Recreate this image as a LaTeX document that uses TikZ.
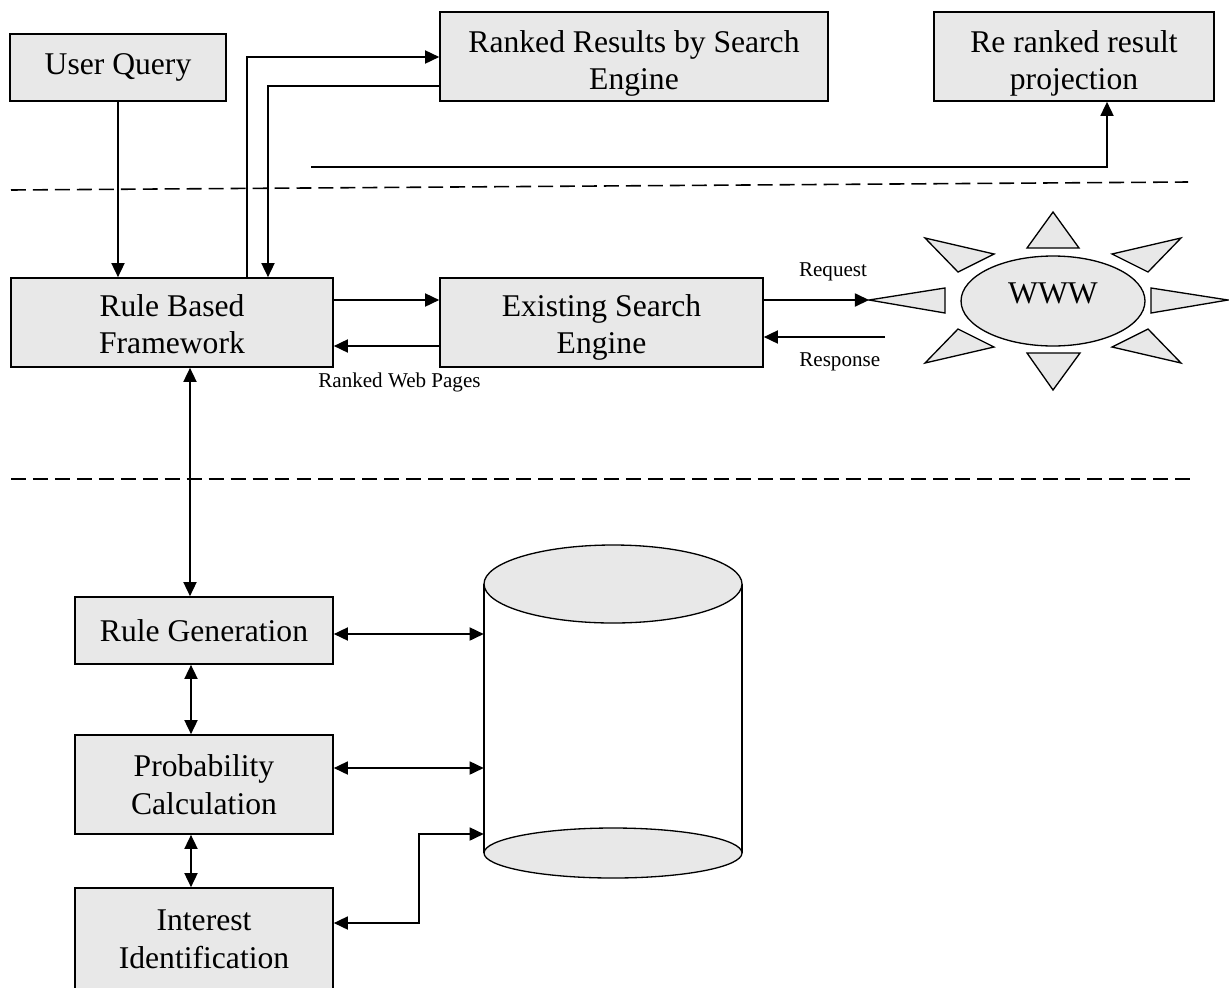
\documentclass[tikz,border=0pt]{standalone}
\usepackage{fontspec}
\setmainfont{Liberation Serif}
\usetikzlibrary{arrows.meta,shapes.geometric}
\definecolor{boxgray}{RGB}{232,232,232}
\newcommand{\lowtext}[2]{\raisebox{-#1}[\height][\depth]{\begin{tabular}{@{}c@{}}#2\end{tabular}}}

\begin{document}
\begin{tikzpicture}[x=0.02cm, y=0.02cm, >={Triangle[length=8pt,width=7.5pt]}]
      \tikzstyle{every node}+=[inner sep=0pt]
      \tikzstyle{box}=[draw=black, line width=1pt, fill=boxgray, align=center, font=\fontsize{18}{21.5}\selectfont]
      \tikzstyle{small}=[font=\fontsize{12}{14}\selectfont]
      \tikzstyle{link}=[black, line width=0.75pt]
      \tikzstyle{ray}=[draw=black, line width=0.75pt, fill=boxgray]
      \tikzstyle{divider}=[black, line width=0.9pt, dash pattern=on 8.5pt off 4pt]
      \clip (0,0) rectangle (1229,-987);
      \fill [white] (0,0) rectangle (1229,-987);
      % top row
      \node [box, minimum width=4.32cm, minimum height=1.34cm] (uq) at (118,-67.5) {User Query};
      \node [box, minimum width=7.76cm, minimum height=1.78cm] (rr) at (634,-56.5) {\lowtext{4pt}{Ranked Results by Search\\Engine}};
      \node [box, minimum width=5.6cm, minimum height=1.78cm] (rp) at (1074,-56.5) {\lowtext{4pt}{Re ranked result\\projection}};
      \draw [divider] (11,-190) -- (1188,-182);
      % middle row
      \node [box, minimum width=6.44cm, minimum height=1.78cm] (rbf) at (172,-322.5) {\lowtext{2.8pt}{Rule Based\\Framework}};
      \node [box, minimum width=6.46cm, minimum height=1.78cm] (ese) at (601.5,-322.5) {\lowtext{2.8pt}{Existing Search\\Engine}};
      \node [small] (req) at (833,-272) {Request};
      \node [small, anchor=west] (resp) at (799,-362) {Response};
      \node [small, anchor=west] (rwp) at (318,-382) {Ranked Web Pages};
      \draw [ray] (869,-300) -- (945,-288) -- (945,-313) -- cycle;
      \draw [ray] (1228,-300) -- (1151,-288) -- (1151,-313) -- cycle;
      \draw [ray] (1053,-212) -- (1079,-248) -- (1027,-248) -- cycle;
      \draw [ray] (1053,-390) -- (1080,-353) -- (1027,-353) -- cycle;
      \draw [ray] (925,-238) -- (994,-254) -- (958,-272) -- cycle;
      \draw [ray] (1181,-238) -- (1112,-254) -- (1148,-272) -- cycle;
      \draw [ray] (925,-363) -- (994,-347) -- (958,-329) -- cycle;
      \draw [ray] (1181,-363) -- (1112,-347) -- (1148,-329) -- cycle;
      \node [ellipse, draw=black, line width=0.75pt, fill=boxgray, minimum width=3.68cm, minimum height=1.8cm, font=\fontsize{18}{21.5}\selectfont] (www) at (1053,-301) {\raisebox{9pt}{WWW}};
      \coordinate (tip) at (869,-300);
      \coordinate (back) at (885,-337);
      \coordinate (src) at (311,-167);
      \draw [divider] (11,-479) -- (1190,-479);
      % bottom row
      \node [box, minimum width=5.16cm, minimum height=1.34cm] (rg) at (204,-630.5) {Rule Generation};
      \node [box, minimum width=5.16cm, minimum height=1.98cm] (pc) at (204,-784.5) {Probability\\Calculation};
      \node [box, minimum width=5.16cm, minimum height=2.04cm] (ii) at (204,-939) {Interest\\Identification};
      \node [minimum width=5.16cm, minimum height=6.66cm] (db) at (613,-711.5) {};
      \draw [link] (484,-584) -- (484,-853);
      \draw [link] (742,-584) -- (742,-853);
      \draw [ray] (613,-853) ellipse (129 and 25);
      \draw [ray] (613,-584) ellipse (129 and 39);
      % connectors
      \draw [link, ->] (uq.south) -- (rbf.north -| uq.south);
      \draw [link, ->] (rbf.north -| 247,0) |- (rr.west |- 0,-57);
      \draw [link, ->] (rr.west |- 0,-86) -| (rbf.north -| 268,0);
      \draw [link, ->] (src) -| (rp.south -| 1107,0);
      \draw [link, ->] (rbf.east |- 0,-300) -- (ese.west |- 0,-300);
      \draw [link, ->] (ese.west |- 0,-346) -- (rbf.east |- 0,-346);
      \draw [link, ->] (ese.east |- tip) -- (tip);
      \draw [link, ->] (back) -- (ese.east |- back);
      \draw [link, <->] (rbf.south -| 190,0) -- (rg.north -| 190,0);
      \draw [link, <->] (rg.south -| 191,0) -- (pc.north -| 191,0);
      \draw [link, <->] (pc.south -| 191,0) -- (ii.north -| 191,0);
      \draw [link, <->] (rg.east |- 0,-634) -- (db.west |- 0,-634);
      \draw [link, <->] (pc.east |- 0,-768) -- (db.west |- 0,-768);
      \draw [link, <->] (ii.east |- 0,-923) -| (419,-834) -- (db.west |- 0,-834);
\end{tikzpicture}
\end{document}
